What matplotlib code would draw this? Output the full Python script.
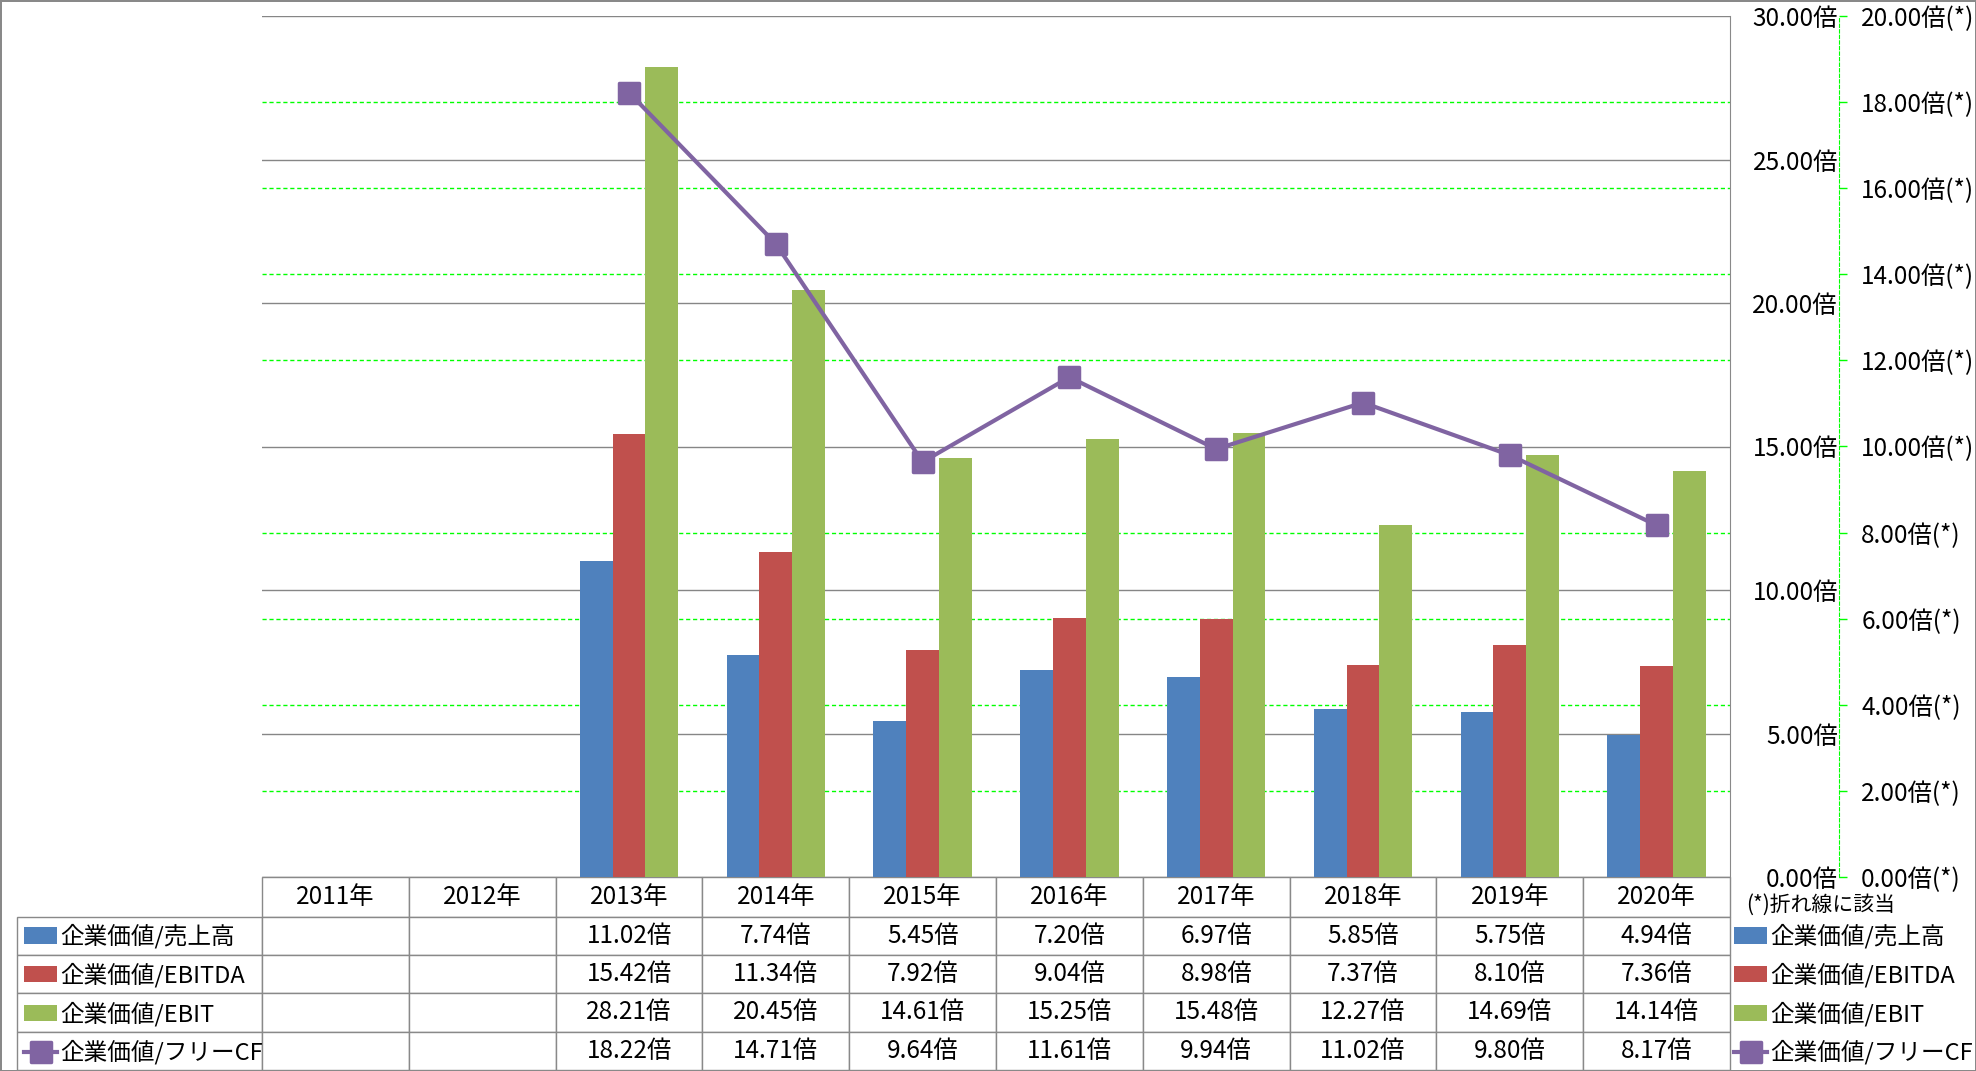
import numpy as np
import matplotlib.pyplot as plt
from matplotlib.ticker import MultipleLocator, FuncFormatter
from matplotlib.table import Table
from matplotlib.markers import MarkerStyle

plt.rcParams['font.family'] = ['Noto Sans CJK JP', 'DejaVu Sans']

nan = np.nan
years = ['2011年', '2012年', '2013年', '2014年', '2015年',
         '2016年', '2017年', '2018年', '2019年', '2020年']
ev_sales = [nan, nan, 11.02, 7.74, 5.45, 7.20, 6.97, 5.85, 5.75, 4.94]
ev_ebitda = [nan, nan, 15.42, 11.34, 7.92, 9.04, 8.98, 7.37, 8.10, 7.36]
ev_ebit = [nan, nan, 28.21, 20.45, 14.61, 15.25, 15.48, 12.27, 14.69, 14.14]
ev_fcf = [nan, nan, 18.22, 14.71, 9.64, 11.61, 9.94, 11.02, 9.80, 8.17]
names = ['企業価値/売上高', '企業価値/EBITDA', '企業価値/EBIT', '企業価値/フリーCF']
colors = ['#4F81BD', '#C0504D', '#9BBB59', '#8064A2']
note = '(*)折れ線に該当'

FS = 17.5
LEG_FS = 17
GRAY = '#898989'
GREEN = '#00FF00'

# figure / layout in pixels
W, H = 1976, 1071
L, R, T, B = 262, 1730, 16, 877     # plot area
TB = 1070                           # table bottom
LAB_L = 17                          # table row-label left edge
AX2_X = 1839                        # secondary axis line

fig = plt.figure(figsize=(W / 100, H / 100), dpi=100,
                 edgecolor=GRAY, linewidth=2)
ax = fig.add_axes([L / W, 1 - B / H, (R - L) / W, (B - T) / H])

x = np.arange(len(years))
bw = 0.223
bars = []
for k, (vals, c, n) in enumerate(zip([ev_sales, ev_ebitda, ev_ebit], colors, names)):
    bars.append(ax.bar(x + (k - 1) * bw, vals, width=bw, color=c, label=n, zorder=2))

# secondary axis (line) - created first, twinx resets the primary ticks
ax2 = ax.twinx()

ax.set_xlim(-0.5, len(years) - 0.5)
ax.set_ylim(0, 30)
ax.yaxis.set_major_locator(MultipleLocator(5))
ax.yaxis.set_minor_locator(MultipleLocator(3))   # = 2.00倍(*) steps on the right axis
ax.grid(axis='y', which='major', color='#868686', lw=1.0, zorder=0)
ax.grid(axis='y', which='minor', color=GREEN, lw=1.0, ls=(0, (3, 2)), zorder=0)
ax.set_axisbelow(True)
ax.set_xticks([])
ax.yaxis.set_major_formatter(FuncFormatter(lambda v, p: f'{v:.2f}倍'))
ax.tick_params(axis='y', which='both', left=False, labelleft=False,
               right=False, labelright=True, pad=(1833 - R) * 0.72, labelsize=FS)
for lab in ax.yaxis.get_ticklabels(which='major'):
    lab.set_ha('right')
for s in ['left', 'top', 'bottom']:
    ax.spines[s].set_visible(False)
ax.spines['right'].set_color(GRAY)

ax2.set_ylim(0, 20)
ax2.yaxis.set_major_locator(MultipleLocator(2))
ax2.yaxis.set_major_formatter(FuncFormatter(lambda v, p: f'{v:.2f}倍(*)'))
for s in ['left', 'top', 'bottom']:
    ax2.spines[s].set_visible(False)
ax2.spines['right'].set_position(('axes', (AX2_X - L) / (R - L)))
ax2.spines['right'].set_color(GREEN)
ax2.spines['right'].set_linestyle((0, (3, 2)))
ax2.tick_params(axis='y', color=GREEN, length=6, width=1, pad=10, labelsize=FS)
mk = MarkerStyle('s', joinstyle='round')
line, = ax2.plot(x, ev_fcf, color=colors[3], lw=3, marker=mk, ms=15,
                 mec=colors[3], mew=2.5, label=names[3], zorder=3)

# data table (bbox covers the year columns, label column sits to its left)
lab_w = (L - LAB_L) / (R - L)
col_w = 1 / len(years)
tbl = Table(ax, bbox=[0, -(TB - B) / (B - T), 1, (TB - B) / (B - T)])
hdr_h, row_h = 39.5, 38.3
for j, yr in enumerate(years):
    tbl.add_cell(0, j, width=col_w, height=hdr_h, text=yr, loc='center')
for i, vals in enumerate([ev_sales, ev_ebitda, ev_ebit, ev_fcf], start=1):
    tbl.add_cell(i, -1, width=lab_w, height=row_h, text='', loc='left')
    for j, v in enumerate(vals):
        txt = '' if np.isnan(v) else f'{v:.2f}倍'
        tbl.add_cell(i, j, width=col_w, height=row_h, text=txt, loc='center')
tbl.auto_set_font_size(False)
tbl.set_fontsize(FS)
for cell in tbl.get_celld().values():
    cell.set_edgecolor(GRAY)
    cell.set_linewidth(1)
ax.add_table(tbl)

# legends (left in table, right beside it)
handles = bars + [line]
leg_kw = dict(loc='upper left', frameon=False, borderaxespad=0, borderpad=0,
              handlelength=1.4, handletextpad=0.12, labelspacing=0.6, fontsize=LEG_FS)
fig.legend(handles, names, bbox_to_anchor=(24 / W, 1 - 924 / H), **leg_kw)
fig.legend(handles, names, bbox_to_anchor=(1734 / W, 1 - 924 / H), **leg_kw)
fig.text(1746 / W, 1 - 905 / H, note, fontsize=15, va='center', ha='left')

fig.savefig('out.png', dpi=100, edgecolor=GRAY)
